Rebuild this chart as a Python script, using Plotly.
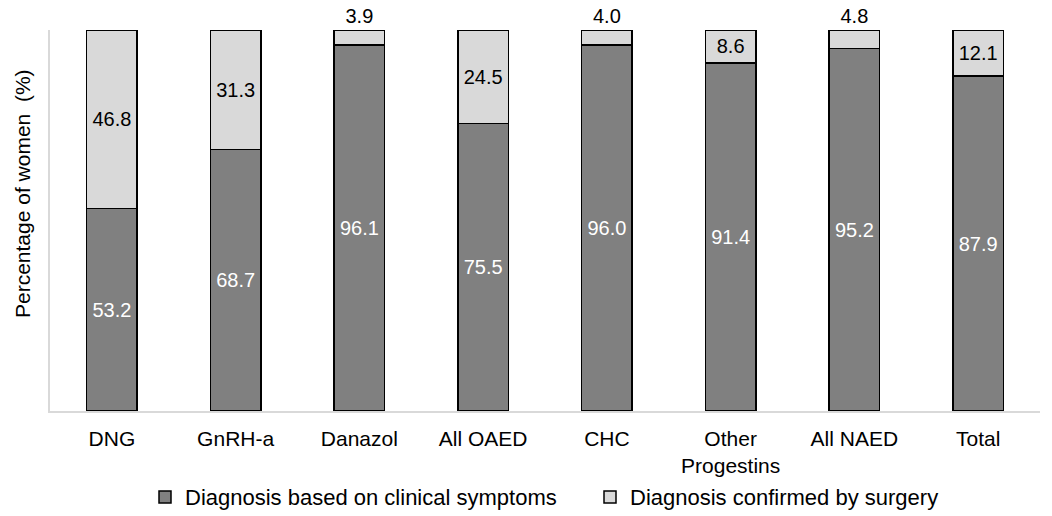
import plotly.graph_objects as go

categories = ["DNG", "GnRH-a", "Danazol", "All OAED", "CHC", "Other<br>Progestins", "All NAED", "Total"]
clinical = [53.2, 68.7, 96.1, 75.5, 96.0, 91.4, 95.2, 87.9]
surgery = [46.8, 31.3, 3.9, 24.5, 4.0, 8.6, 4.8, 12.1]
y_title = "Percentage of women  (%)"

font_family = "Liberation Sans, Arial, sans-serif"

surg_pos = ["outside" if v < 6 else "inside" for v in surgery]

fig = go.Figure()
fig.add_trace(go.Bar(
    x=categories, y=clinical, name="Diagnosis based on clinical symptoms",
    marker=dict(color="#808080", line=dict(color="#000000", width=1.5)),
    text=[f"{v:.1f}" for v in clinical], textposition="inside", insidetextanchor="middle",
    textfont=dict(color="white", size=20, family=font_family), constraintext="none",
    legend="legend",
))
fig.add_trace(go.Bar(
    x=categories, y=surgery, name="Diagnosis confirmed by surgery",
    marker=dict(color="#d9d9d9", line=dict(color="#000000", width=1.5)),
    text=[f"{v:.1f}" for v in surgery], textposition=surg_pos, insidetextanchor="middle",
    textfont=dict(color="black", size=20, family=font_family), constraintext="none",
    cliponaxis=False, legend="legend2",
))
leg_common = dict(orientation="h", y=-0.226, yanchor="middle", xanchor="left",
                  font=dict(size=22), itemwidth=30, bgcolor="rgba(0,0,0,0)")
fig.update_layout(
    barmode="stack", bargap=0.59,
    width=1052, height=516,
    margin=dict(l=50, r=12, t=30, b=105, autoexpand=False),
    plot_bgcolor="white", paper_bgcolor="white",
    font=dict(family=font_family, size=20, color="#000000"),
    showlegend=True,
    legend=dict(x=(145 - 50) / 990, **leg_common),
    legend2=dict(x=(590 - 50) / 990, **leg_common),
    uniformtext=dict(mode=False),
    annotations=[dict(text=y_title, textangle=-90, xref="paper", yref="paper",
                      x=(22 - 50) / 990, y=(411 - 194) / 381, xanchor="center", yanchor="middle",
                      showarrow=False, font=dict(size=21))],
)
fig.update_xaxes(showline=True, linecolor="#d9d9d9", linewidth=1.5, ticks="outside",
                 ticklen=8, tickcolor="rgba(0,0,0,0)", tickfont=dict(size=21), automargin=False)
fig.update_yaxes(range=[0, 100], showline=True, linecolor="#d9d9d9", linewidth=1.5,
                 showgrid=False, showticklabels=False, ticks="", zeroline=False, automargin=False)
fig.write_html("out.html", config={"displayModeBar": False},
               post_script="document.body.style.margin='0';document.body.style.overflow='hidden';")
